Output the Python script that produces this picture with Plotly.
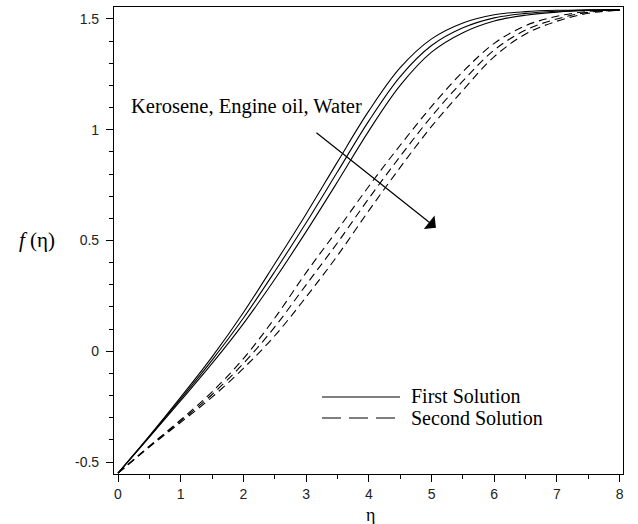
import plotly.graph_objects as go

# ---- data ----
eta = [0, 0.5, 1, 1.5, 2, 2.5, 3, 3.5, 4, 4.5, 5, 5.5, 6, 6.5, 7, 7.5, 8]

first_kerosene = [-0.55, -0.382, -0.207, -0.025, 0.175, 0.395, 0.62, 0.855, 1.085, 1.28, 1.41, 1.482, 1.519, 1.533, 1.539, 1.541, 1.542]
first_engine   = [-0.55, -0.385, -0.215, -0.04, 0.15, 0.36, 0.58, 0.81, 1.04, 1.24, 1.38, 1.46, 1.505, 1.525, 1.535, 1.54, 1.541]
first_water    = [-0.55, -0.388, -0.223, -0.055, 0.125, 0.325, 0.54, 0.765, 0.995, 1.2, 1.35, 1.438, 1.491, 1.517, 1.531, 1.538, 1.54]

second_kerosene = [-0.55, -0.428, -0.309, -0.183, -0.033, 0.15, 0.355, 0.548, 0.745, 0.93, 1.105, 1.262, 1.39, 1.47, 1.512, 1.534, 1.54]
second_engine   = [-0.55, -0.43, -0.315, -0.195, -0.055, 0.11, 0.30, 0.49, 0.69, 0.88, 1.06, 1.22, 1.36, 1.45, 1.5, 1.53, 1.54]
second_water    = [-0.55, -0.432, -0.321, -0.207, -0.077, 0.07, 0.245, 0.432, 0.635, 0.83, 1.015, 1.178, 1.33, 1.432, 1.49, 1.526, 1.54]

x_ticks = [0, 1, 2, 3, 4, 5, 6, 7, 8]
y_tickvals = [-0.5, 0, 0.5, 1, 1.5]
y_ticktext = ["-0.5", "0", "0.5", "1", "1.5"]

annotation_text = "Kerosene, Engine oil, Water"
legend_labels = ["First Solution", "Second Solution"]

# ---- figure ----
fig = go.Figure()

for ys in (first_kerosene, first_engine, first_water):
    fig.add_trace(go.Scatter(x=eta, y=ys, mode="lines", line_shape="spline",
                             line=dict(color="black", width=1.1), showlegend=False,
                             hoverinfo="skip"))
for ys in (second_kerosene, second_engine, second_water):
    fig.add_trace(go.Scatter(x=eta, y=ys, mode="lines", line_shape="spline",
                             line=dict(color="black", width=1.1, dash="8px,5px"),
                             showlegend=False, hoverinfo="skip"))

tickfont = dict(family="Liberation Sans", size=14, color="#222")
serif = "Liberation Serif"

fig.update_xaxes(range=[-0.064, 8.053], tickvals=x_ticks, ticks="outside", ticklen=7,
                 tickwidth=1, tickcolor="black", showline=True, linecolor="black",
                 linewidth=1.2, mirror=True, showgrid=False, zeroline=False,
                 tickfont=tickfont,
                 minor=dict(dtick=0.5, tick0=0, ticks="outside", ticklen=4,
                            tickcolor="black", showgrid=False))
fig.update_yaxes(range=[-0.554, 1.554], tickvals=y_tickvals, ticktext=y_ticktext,
                 ticks="outside", ticklen=7, tickwidth=1, tickcolor="black",
                 showline=True, linecolor="black", linewidth=1.2, mirror=True,
                 showgrid=False, zeroline=False, tickfont=tickfont,
                 ticklabelstandoff=4,
                 minor=dict(dtick=0.1, tick0=0, ticks="outside", ticklen=4,
                            tickcolor="black", showgrid=False))

W, H = 638, 524
L, R, T, B = 114, 15, 7, 50
pw, ph = W - L - R, H - T - B

def px(xp):
    return (xp - L) / pw

def py(yp):
    return (H - B - yp) / ph

def txt(x, y, s, size, xanchor="center"):
    return dict(x=px(x), y=py(y), xref="paper", yref="paper", text=s,
                xanchor=xanchor, yanchor="middle", showarrow=False,
                font=dict(family=serif, size=size, color="black"))

annotations = [
    txt(246, 107, annotation_text, 20.5),
    # arrow
    dict(x=5.07, y=0.558, ax=3.14, ay=0.992, xref="x", yref="y", axref="x", ayref="y",
         text="", showarrow=True, arrowhead=1, arrowsize=2.4, arrowwidth=1.2,
         arrowcolor="black"),
    txt(37, 240, "<i>f</i> (η)", 21),
    txt(370, 515, "η", 18),
    txt(409, 396, legend_labels[0], 20, "left"),
    txt(409, 418, legend_labels[1], 20, "left"),
]

shapes = [
    dict(type="line", xref="paper", yref="paper", x0=px(322), x1=px(400), y0=py(397), y1=py(397),
         line=dict(color="black", width=1.1)),
    dict(type="line", xref="paper", yref="paper", x0=px(322), x1=px(400), y0=py(418), y1=py(418),
         line=dict(color="black", width=1.1, dash="19px,8px")),
]

fig.update_layout(width=W, height=H, margin=dict(l=L, r=R, t=T, b=B),
                  paper_bgcolor="white", plot_bgcolor="white",
                  annotations=annotations, shapes=shapes, showlegend=False)

fig.write_html("out.html")
